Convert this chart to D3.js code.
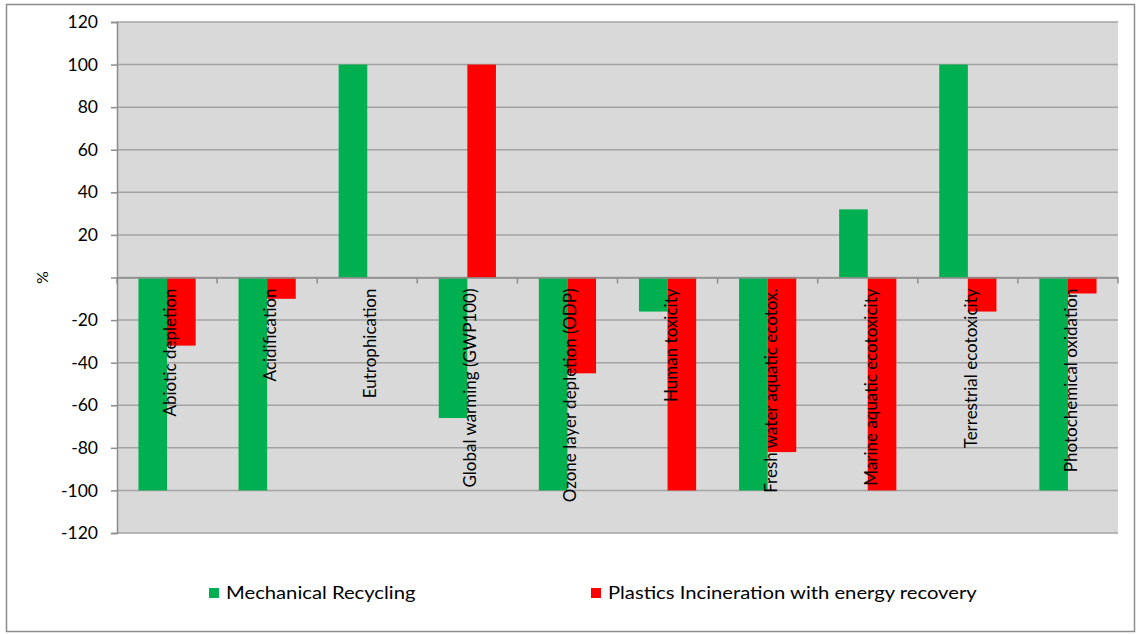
<!DOCTYPE html>
<html>
<head>
<meta charset="utf-8">
<script src="https://cdn.jsdelivr.net/npm/d3@7"></script>
<style>
  html, body { margin: 0; padding: 0; background: #fff; }
  svg { display: block; }
  text { font-family: Lato, "Open Sans", sans-serif; fill: #000; }
</style>
</head>
<body>
<svg id="chart" width="1138" height="634"></svg>
<script>
// Impact categories and relative results (%) for the two end-of-life options
const categories = [
  "Abiotic depletion",
  "Acidification",
  "Eutrophication",
  "Global warming (GWP100)",
  "Ozone layer depletion (ODP)",
  "Human toxicity",
  "Fresh water aquatic ecotox.",
  "Marine aquatic ecotoxicity",
  "Terrestrial ecotoxicity",
  "Photochemical oxidation"
];
const seriesNames = ["Mechanical Recycling", "Plastics Incineration with energy recovery"];
const mechanicalRecycling = [-100, -100, 100, -66, -100, -16, -100, 32, 100, -100];
const plasticsIncineration = [-32, -10, 0, 100, -45, -100, -82, -100, -16, -7.5];
const yTicks = [-120, -100, -80, -60, -40, -20, 0, 20, 40, 60, 80, 100, 120];
const colors = ["#00b050", "#ff0000"];

const svg = d3.select("#chart");
const plot = { left: 117, right: 1118, top: 22, bottom: 533 };

// chart area frame
svg.append("rect")
  .attr("x", 6.5).attr("y", 4.5)
  .attr("width", 1128).attr("height", 627)
  .attr("fill", "#fff").attr("stroke", "#8c8c8c").attr("stroke-width", 1.5);

// plot background
svg.append("rect")
  .attr("x", plot.left).attr("y", plot.top)
  .attr("width", plot.right - plot.left).attr("height", plot.bottom - plot.top)
  .attr("fill", "#d9d9d9");

const y = d3.scaleLinear().domain([-120, 120]).range([plot.bottom, plot.top]);
const x0 = d3.scaleBand().domain(categories).range([plot.left, plot.right]).paddingInner(0).paddingOuter(0);
// two bars per category, 150% gap between groups
const x1 = d3.scaleBand().domain(seriesNames).range([0, x0.bandwidth()]).paddingInner(0).paddingOuter(0.75);

// horizontal gridlines
svg.append("g")
  .selectAll("line")
  .data(yTicks)
  .join("line")
  .attr("x1", plot.left).attr("x2", plot.right)
  .attr("y1", d => y(d)).attr("y2", d => y(d))
  .attr("stroke", "#a3a3a3").attr("stroke-width", 1.5);

// bars
const rows = categories.map((c, i) => ({
  cat: c,
  vals: [
    { s: seriesNames[0], v: mechanicalRecycling[i] },
    { s: seriesNames[1], v: plasticsIncineration[i] }
  ]
}));
svg.append("g")
  .selectAll("g")
  .data(rows)
  .join("g")
  .attr("transform", d => `translate(${x0(d.cat)},0)`)
  .selectAll("rect")
  .data(d => d.vals)
  .join("rect")
  .attr("x", d => x1(d.s))
  .attr("width", x1.bandwidth())
  .attr("y", d => y(Math.max(0, d.v)))
  .attr("height", d => Math.abs(y(d.v) - y(0)))
  .attr("fill", (d, i) => colors[i]);

// value axis
const yAxis = d3.axisLeft(y)
  .tickValues(yTicks)
  .tickSize(6)
  .tickPadding(13)
  .tickFormat(d => d === 0 ? "" : d);
const ya = svg.append("g")
  .attr("transform", `translate(${plot.left},0)`)
  .call(yAxis);
ya.select(".domain").attr("stroke", "#8c8c8c").attr("stroke-width", 1.5);
ya.selectAll(".tick line").attr("stroke", "#8c8c8c").attr("stroke-width", 1.5);
ya.selectAll(".tick text")
  .attr("font-family", "Lato, sans-serif")
  .attr("font-size", 17.5)
  .attr("fill", "#000");

// category axis along zero line
const xAxis = d3.axisBottom(x0).tickSize(0).tickFormat("");
const xa = svg.append("g")
  .attr("transform", `translate(0,${y(0)})`)
  .call(xAxis);
xa.select(".domain").attr("stroke", "#8c8c8c").attr("stroke-width", 1.5);
// tick marks at category boundaries
xa.append("g")
  .selectAll("line")
  .data(d3.range(categories.length + 1))
  .join("line")
  .attr("x1", i => plot.left + i * x0.step())
  .attr("x2", i => plot.left + i * x0.step())
  .attr("y1", 0).attr("y2", 6)
  .attr("stroke", "#8c8c8c").attr("stroke-width", 1.5);

// rotated category labels
svg.append("g")
  .selectAll("text")
  .data(categories)
  .join("text")
  .attr("transform", d => `translate(${x0(d) + x0.bandwidth() / 2 + 9},${y(0) + 11}) rotate(-90)`)
  .attr("text-anchor", "end")
  .attr("font-size", 17)
  .text(d => d);

// axis title
svg.append("text")
  .attr("transform", `translate(48,${y(0)}) rotate(-90)`)
  .attr("text-anchor", "middle")
  .attr("font-size", 16)
  .text("%");

// legend
const legendX = [209, 591];
const lg = svg.append("g")
  .selectAll("g")
  .data(seriesNames)
  .join("g")
  .attr("transform", (d, i) => `translate(${legendX[i]},588)`);
lg.append("rect")
  .attr("width", 10).attr("height", 10)
  .attr("fill", (d, i) => colors[i]);
lg.append("text")
  .attr("transform", "translate(17,11) scale(1.19,1)")
  .attr("font-size", 17)
  .text(d => d);
</script>
</body>
</html>
